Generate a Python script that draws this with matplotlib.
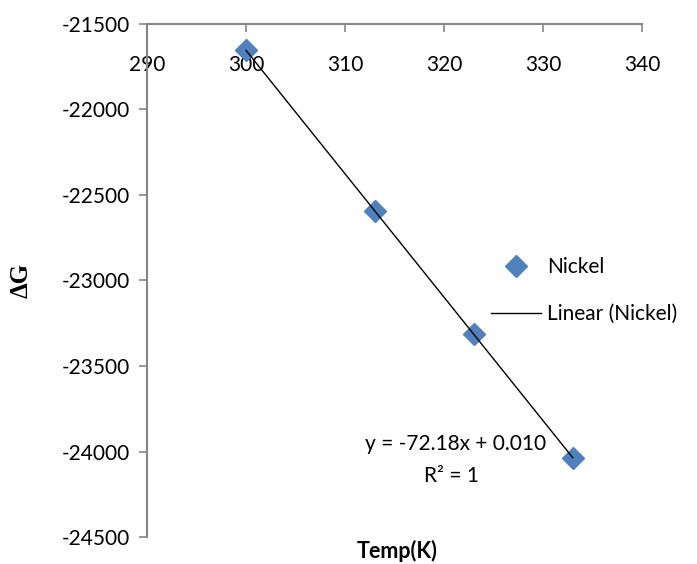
import matplotlib
matplotlib.use("Agg")
import matplotlib.pyplot as plt
import numpy as np

temp = [300, 313, 323, 333]
dG = [-21654, -22592, -23315, -24036]
slope = -72.18
intercept = 0.010
x_ticks = [290, 300, 310, 320, 330, 340]
y_ticks = [-24500, -24000, -23500, -23000, -22500, -22000, -21500]

plt.rcParams['font.family'] = ['Lato', 'DejaVu Sans']
plt.rcParams['axes.unicode_minus'] = False
fig = plt.figure(figsize=(6.97, 5.64), dpi=100)
ax = fig.add_axes([147/697, 1-537/564, (642-147)/697, (537-24)/564])

blue = '#4F81BD'
ax.plot(temp, dG, linestyle='none', marker='D', markersize=11.5, color=blue,
        markeredgecolor=blue, label='Nickel', zorder=3)
xt = np.array([temp[0], temp[-1]])
ax.plot(xt, slope*xt + intercept, color='black', lw=1.0, label='Linear (Nickel)', zorder=4)

ax.set_xlim(290, 340)
ax.set_ylim(-24500, -21500)
ax.set_xticks(x_ticks)
ax.set_yticks(y_ticks)
ax.xaxis.set_ticks_position('top')
ax.xaxis.set_label_position('bottom')
for s in ['right', 'bottom']:
    ax.spines[s].set_visible(False)
for s in ['top', 'left']:
    ax.spines[s].set_color('#868686')
    ax.spines[s].set_linewidth(1.5)
ax.tick_params(axis='x', direction='in', length=6, color='#868686', width=1.2,
               labeltop=True, labelsize=15, pad=-37)
ax.tick_params(axis='y', direction='out', length=6, color='#868686', width=1.2,
               labelsize=15, pad=6)

ax.set_xlabel('Temp(K)', fontsize=15.5, fontweight='bold', va='top')
ax.xaxis.set_label_coords(0.505, -0.006)
ax.set_ylabel('ΔG', fontsize=18, fontweight='bold', family=['Liberation Serif'])
ax.yaxis.set_label_coords(-0.232, 0.50)

fig.text(456/697, 1-444/564, 'y = -72.18x + 0.010', fontsize=15, ha='center', va='center')
fig.text(452/697, 1-476/564, 'R² = 1', fontsize=15, ha='center', va='center')

leg = ax.legend(loc='upper left', bbox_to_anchor=(491/697, 1-257/564), bbox_transform=fig.transFigure,
                frameon=False, fontsize=15, handlelength=2.4, handletextpad=0.3, labelspacing=1.3,
                borderaxespad=0, borderpad=0)

fig.savefig('out.png', dpi=100)
